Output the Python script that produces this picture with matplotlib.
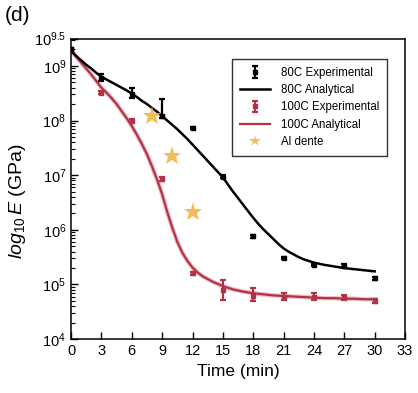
import matplotlib

matplotlib.use("Agg")
import matplotlib.pyplot as plt  # noqa: E402
from matplotlib.ticker import FixedLocator, LogLocator, NullFormatter  # noqa: E402

plt.rcParams["font.family"] = ["Liberation Sans", "DejaVu Sans"]
plt.rcParams["mathtext.fontset"] = "custom"
plt.rcParams["mathtext.rm"] = "Liberation Sans"
plt.rcParams["mathtext.it"] = "Liberation Sans:italic"

# experimental data (E in GPa)
t_exp = [0, 3, 6, 9, 12, 15, 18, 21, 24, 27, 30]
e80 = [2.0e9, 6.0e8, 3.1e8, 1.2e8, 7.4e7, 9.4e6, 7.6e5, 3.1e5, 2.3e5, 2.2e5, 1.3e5]
e80_lo = [1.5e8, 0.8e8, 0.5e8, 0.1e8, 0.3e7, 0.5e6, 0.4e5, 0.15e5, 0.1e5, 0.15e5, 0.08e5]
e80_hi = [1.5e8, 1.2e8, 0.9e8, 1.3e8, 0.3e7, 0.5e6, 0.4e5, 0.15e5, 0.1e5, 0.2e5, 0.08e5]

e100 = [2.0e9, 3.2e8, 1.0e8, 8.5e6, 1.6e5, 8.0e4, 6.2e4, 5.9e4, 5.9e4, 5.8e4, 5.0e4]
e100_lo = [1.5e8, 0.2e8, 0.06e8, 0.6e6, 0.1e5, 2.7e4, 1.2e4, 0.8e4, 0.8e4, 0.6e4, 0.4e4]
e100_hi = [1.5e8, 0.2e8, 0.06e8, 0.6e6, 0.1e5, 4.0e4, 2.5e4, 1.2e4, 1.2e4, 0.5e4, 0.5e4]

# al dente points
t_dente = [8, 10, 12]
e_dente = [1.2e8, 2.2e7, 2.1e6]

# analytical curves (log10 E, every half minute)
t_fit = [i * 0.5 for i in range(0, 61)]
log80_fit = [9.28, 9.18, 9.10, 9.02, 8.95, 8.87, 8.80, 8.75, 8.70, 8.65,
             8.60, 8.55, 8.49, 8.43, 8.36, 8.30, 8.23, 8.16, 8.08, 8.00,
             7.92, 7.84, 7.75, 7.66, 7.56, 7.46, 7.36, 7.26, 7.16, 7.06,
             6.96, 6.83, 6.70, 6.58, 6.46, 6.34, 6.22, 6.11, 6.01, 5.92,
             5.83, 5.74, 5.66, 5.60, 5.55, 5.50, 5.46, 5.43, 5.40, 5.38,
             5.36, 5.345, 5.33, 5.315, 5.30, 5.29, 5.28, 5.27, 5.26, 5.25, 5.24]
log100_fit = [9.28, 9.17, 9.06, 8.95, 8.84, 8.72, 8.60, 8.51, 8.41, 8.30,
              8.17, 8.04, 7.90, 7.74, 7.57, 7.38, 7.16, 6.92, 6.65, 6.33,
              6.04, 5.78, 5.58, 5.43, 5.31, 5.22, 5.15, 5.10, 5.05, 5.01,
              4.97, 4.94, 4.91, 4.89, 4.87, 4.855, 4.84, 4.83, 4.82, 4.81,
              4.80, 4.795, 4.79, 4.785, 4.78, 4.775, 4.77, 4.765, 4.76, 4.755,
              4.75, 4.75, 4.75, 4.745, 4.74, 4.74, 4.74, 4.735, 4.73, 4.73, 4.73]

x_ticks = [0, 3, 6, 9, 12, 15, 18, 21, 24, 27, 30, 33]
y_ticks = [1e4, 1e5, 1e6, 1e7, 1e8, 1e9, 10 ** 9.5]
y_tick_labels = [r"$10^{4}$", r"$10^{5}$", r"$10^{6}$", r"$10^{7}$",
                 r"$10^{8}$", r"$10^{9}$", r"$10^{9.5}$"]

red = "#b03448"
gold = "#f2b33d"

fig = plt.figure(figsize=(4.18, 3.93), dpi=100)
ax = fig.add_axes([0.170, 0.137, 0.799, 0.765])

ax.plot(t_fit, [10 ** v for v in log100_fit], color="#f4bcc4", lw=3.2, zorder=2)
ax.plot(t_fit, [10 ** v for v in log100_fit], color=red, lw=1.6, zorder=3,
        label="100C Analytical")
ax.plot(t_fit, [10 ** v for v in log80_fit], color="black", lw=1.8, zorder=3,
        label="80C Analytical")

ax.errorbar(t_exp, e100, yerr=[e100_lo, e100_hi], fmt="s", ms=3.5, color=red,
            ecolor=red, elinewidth=1.6, capsize=2.5, capthick=1.6, zorder=4,
            label="100C Experimental")
ax.errorbar(t_exp, e80, yerr=[e80_lo, e80_hi], fmt="s", ms=3.5, color="black",
            ecolor="black", elinewidth=1.6, capsize=2.5, capthick=1.6, zorder=5,
            label="80C Experimental")

ax.plot(t_dente, e_dente, linestyle="none", marker="*", ms=14, color=gold,
        alpha=0.85, markeredgewidth=0, zorder=6, label="Al dente")

ax.set_yscale("log")
ax.set_xlim(0, 33)
ax.set_ylim(1e4, 10 ** 9.5)
ax.set_xticks(x_ticks)
ax.yaxis.set_major_locator(FixedLocator(y_ticks))
ax.set_yticklabels(y_tick_labels)
ax.yaxis.set_minor_locator(LogLocator(base=10, subs=range(2, 10), numticks=20))
ax.yaxis.set_minor_formatter(NullFormatter())

ax.tick_params(axis="both", which="both", direction="in", top=False, right=False)
ax.tick_params(axis="both", which="major", length=5, width=1, labelsize=10.5)
ax.tick_params(axis="y", which="minor", length=3, width=0.8)
for s in ax.spines.values():
    s.set_linewidth(1.1)

ax.set_xlabel("Time (min)", fontsize=12.5, labelpad=4)
ax.set_ylabel(r"$\mathit{log}_{10}\,\mathit{E}$ (GPa)", fontsize=14)
ax.yaxis.set_label_coords(-0.13, 0.46)

handles, labels = ax.get_legend_handles_labels()
order = ["80C Experimental", "80C Analytical", "100C Experimental",
         "100C Analytical", "Al dente"]
hmap = dict(zip(labels, handles))
leg = ax.legend([hmap[k] for k in order], order, loc="upper right",
                bbox_to_anchor=(0.946, 0.932), borderaxespad=0, fontsize=8.3,
                fancybox=False, frameon=True, edgecolor="black",
                handlelength=2.6, labelspacing=0.45, borderpad=0.7,
                handletextpad=0.9)
leg.get_frame().set_linewidth(1.0)
leg.legend_handles[4].set_markersize(9)

fig.text(0.012, 0.985, "(d)", fontsize=15, ha="left", va="top")

fig.savefig("out.png", dpi=100)
